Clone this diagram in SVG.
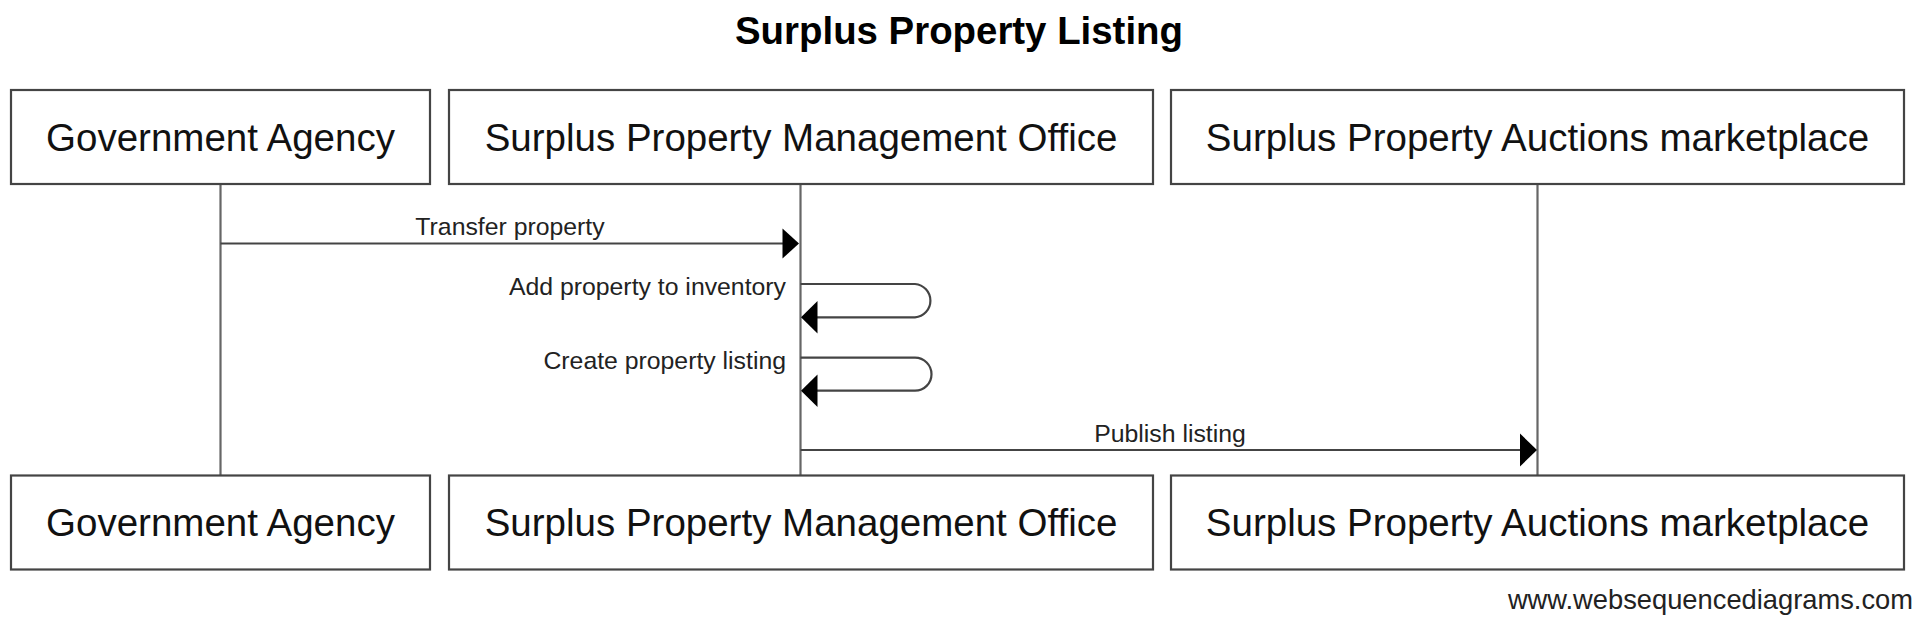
<svg xmlns="http://www.w3.org/2000/svg" width="1924" height="626" viewBox="0 0 1924 626">
<style>
.box{fill:#fff;stroke:#444;stroke-width:2.2}
.life{stroke:#666;stroke-width:2.2;fill:none}
.msg{stroke:#444;stroke-width:2.2;fill:none}
.head{fill:#000}
.actor{font-family:"Liberation Sans",Arial,sans-serif;font-size:38.5px;fill:#111;text-anchor:middle}
.label{font-family:"Liberation Sans",Arial,sans-serif;font-size:24.8px;fill:#222}
.title{font-family:"Liberation Sans",Arial,sans-serif;font-size:38.4px;font-weight:bold;fill:#000;text-anchor:middle}
.foot{font-family:"Liberation Sans",Arial,sans-serif;font-size:27.3px;fill:#222;text-anchor:end}
</style>
<rect width="1924" height="626" fill="#fff"/>
<text class="title" x="959" y="44">Surplus Property Listing</text>
<g id="lifelines">
<line class="life" x1="220.5" y1="184" x2="220.5" y2="476"/>
<line class="life" x1="800.5" y1="184" x2="800.5" y2="476"/>
<line class="life" x1="1537.5" y1="184" x2="1537.5" y2="476"/>
</g>
<g id="node-government-agency">
<rect class="box" x="11" y="90" width="419" height="94"/>
<text class="actor" x="220.5" y="150.5">Government Agency</text>
<rect class="box" x="11" y="475.5" width="419" height="94"/>
<text class="actor" x="220.5" y="536">Government Agency</text>
</g>
<g id="node-management-office">
<rect class="box" x="449" y="90" width="704" height="94"/>
<text class="actor" x="801" y="150.5">Surplus Property Management Office</text>
<rect class="box" x="449" y="475.5" width="704" height="94"/>
<text class="actor" x="801" y="536">Surplus Property Management Office</text>
</g>
<g id="node-auctions-marketplace">
<rect class="box" x="1171" y="90" width="733" height="94"/>
<text class="actor" x="1537.5" y="150.5">Surplus Property Auctions marketplace</text>
<rect class="box" x="1171" y="475.5" width="733" height="94"/>
<text class="actor" x="1537.5" y="536">Surplus Property Auctions marketplace</text>
</g>
<g id="connectors">
<line class="msg" x1="220.5" y1="243.5" x2="784" y2="243.5"/>
<polygon class="head" points="799,243.5 782.5,228.5 782.5,258.5"/>
<text class="label" x="510" y="235" text-anchor="middle">Transfer property</text>
<path class="msg" d="M800.5,284 H915 A16.7,16.7 0 0 1 915,317.3 H816"/>
<polygon class="head" points="801,317.3 817.5,301 817.5,333.6"/>
<text class="label" x="786" y="295" text-anchor="end">Add property to inventory</text>
<path class="msg" d="M800.5,357.7 H915 A16.5,16.5 0 0 1 915,390.7 H816"/>
<polygon class="head" points="801,390.7 817.5,374.4 817.5,407"/>
<text class="label" x="786" y="368.5" text-anchor="end">Create property listing</text>
<line class="msg" x1="800.5" y1="450" x2="1522" y2="450"/>
<polygon class="head" points="1537,450 1520,433.5 1520,466.5"/>
<text class="label" x="1170" y="441.7" text-anchor="middle">Publish listing</text>
</g>
<text class="foot" x="1913" y="608.5">www.websequencediagrams.com</text>
</svg>
